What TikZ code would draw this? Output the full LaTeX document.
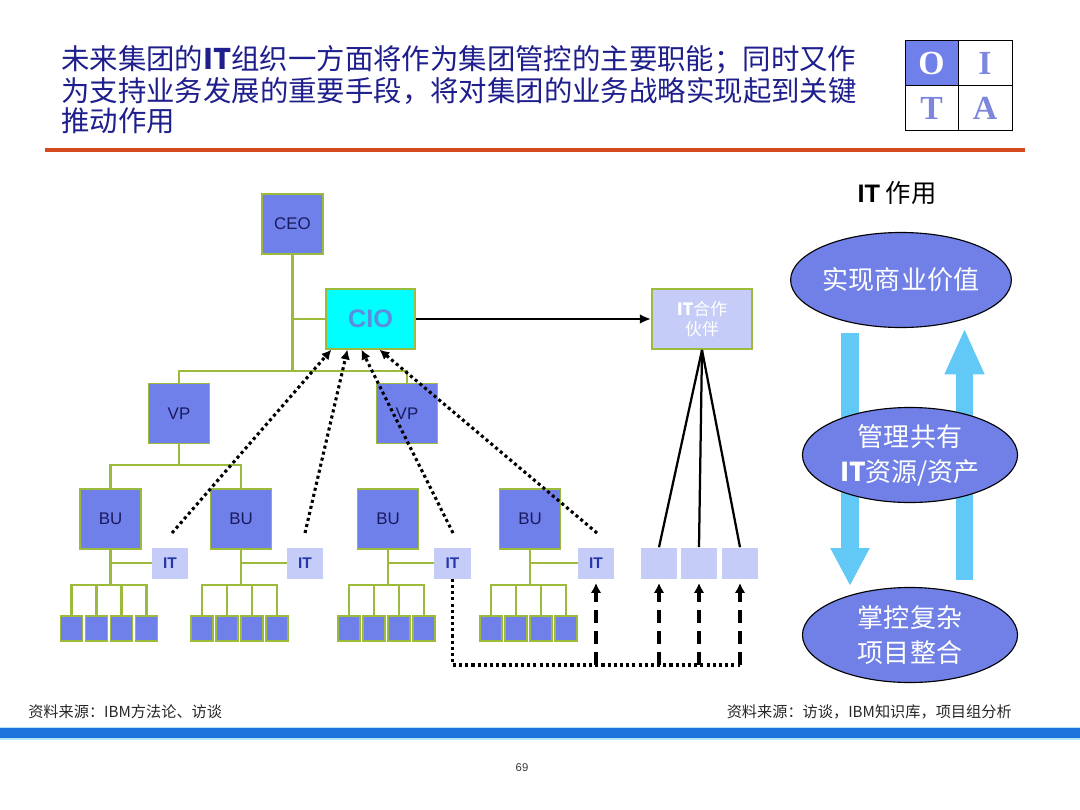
\documentclass[tikz,border=0pt]{standalone}
\usepackage{fontspec}
\setmainfont{Noto Sans CJK SC}
\newfontfamily\arialf{Liberation Sans}
\newfontfamily\timesf{Liberation Serif}
\usetikzlibrary{arrows.meta,calc,shapes.geometric}
\definecolor{boxblue}{HTML}{6F80EA}
\definecolor{tgreen}{HTML}{9CBB3C}
\definecolor{lightbox}{HTML}{C5CCF7}
\definecolor{titleblue}{HTML}{1E1E8C}
\definecolor{ellblue}{HTML}{7080E6}
\definecolor{arrblue}{HTML}{62C8F6}
\definecolor{navy}{HTML}{1A1A5E}
\definecolor{orangeline}{HTML}{D24A1E}
\definecolor{barblue}{HTML}{1A72DC}
\definecolor{itblue}{HTML}{2436A8}
\definecolor{ciotext}{HTML}{5A8FE0}
\definecolor{ciofill}{HTML}{00FFFF}
\definecolor{oitaletter}{HTML}{7B86DC}
\begin{document}
\begin{tikzpicture}[x=0.025cm,y=-0.025cm,
  orgbox/.style={draw=tgreen,line width=1.4pt,fill=boxblue,minimum width=1.525cm,minimum height=1.5cm,inner sep=0pt,font=\arialf\fontsize{12}{14}\selectfont,text=navy},
  ciobox/.style={draw=tgreen,line width=0.8pt,fill=ciofill,minimum width=2.225cm,minimum height=1.5cm,inner sep=0pt,font=\arialf\bfseries\fontsize{18}{20}\selectfont,text=ciotext},
  partnerbox/.style={draw=tgreen,line width=1.4pt,fill=lightbox,minimum width=2.5cm,minimum height=1.5cm,inner sep=0pt,align=center,font=\fontsize{12}{14.5}\selectfont,text=white},
  itbox/.style={fill=lightbox,minimum width=0.9cm,minimum height=0.775cm,inner sep=0pt,font=\arialf\bfseries\fontsize{11}{12}\selectfont,text=itblue},
  pbox/.style={fill=lightbox,minimum width=0.9cm,minimum height=0.775cm,inner sep=0pt},
  leaf/.style={draw=tgreen,line width=1.1pt,fill=boxblue,minimum width=0.55cm,minimum height=0.625cm,inner sep=0pt},
  gline/.style={draw=tgreen,line width=2pt},
  dotarr/.style={draw=black,line width=2.2pt,dash pattern=on 2.2pt off 2.2pt,-{Latex[length=7pt,width=7pt]}},
  dotline/.style={draw=black,line width=2.2pt,dash pattern=on 2.2pt off 2.2pt},
  dasharr/.style={draw=black,line width=2.6pt,dash pattern=on 9pt off 6pt,-{Latex[length=7pt,width=7.5pt]},shorten >=3pt},
  blackarr/.style={draw=black,line width=1.6pt,-{Latex[length=8pt,width=7pt]}},
  bline/.style={draw=black,line width=1.6pt},
  ell/.style={ellipse,draw=black,line width=0.8pt,fill=ellblue,minimum width=5.375cm,minimum height=2.375cm,inner sep=0pt,align=center,text=white,font=\fontsize{18.5}{25}\selectfont},
  blockarr/.style={draw=arrblue,line cap=butt},
  oita/.style={font=\timesf\bfseries\fontsize{24}{26}\selectfont},
  foot/.style={font=\fontsize{10.8}{12}\selectfont,text=black!85,inner sep=0pt}
]
\useasboundingbox (0,0) rectangle (1080,810);

% ---------- title ----------
\node[anchor=base west,text=titleblue,font=\fontsize{20.2}{24}\selectfont,inner sep=0pt] (t1) at (61,69) {未来集团的{\bfseries IT}组织一方面将作为集团管控的主要职能；同时又作};
\node[anchor=base west,text=titleblue,font=\fontsize{20.2}{24}\selectfont,inner sep=0pt] (t2) at (61,101) {为支持业务发展的重要手段，将对集团的业务战略实现起到关键};
\node[anchor=base west,text=titleblue,font=\fontsize{20.2}{24}\selectfont,inner sep=0pt] (t3) at (61,131) {推动作用};
\draw[orangeline,line width=2.2pt] (45,150) -- (1025,150);

% ---------- OITA ----------
\fill[boxblue] (905,40) rectangle (958,85);
\draw[black,line width=0.6pt] (905,40) rectangle (1012,130);
\draw[black,line width=0.6pt] (958,40) -- (958,130);
\draw[black,line width=0.6pt] (905,85) -- (1012,85);
\node[oita,text=white] (oo) at (931.5,63) {O};
\node[oita,text=oitaletter] (oi) at (985,63) {I};
\node[oita,text=oitaletter] (ot) at (931.5,108) {T};
\node[oita,text=oitaletter] (oa) at (985,108) {A};

% ---------- org chart ----------
\node[orgbox] (ceo) at (292.5,224) {CEO};
\node[ciobox] (cio) at (370.5,319) {CIO};
\node[orgbox] (vp1) at (179,413.5) {VP};
\node[orgbox] (vp2) at (407,413.5) {VP};
\node[orgbox] (bu1) at (110.5,519) {BU};
\node[orgbox] (bu2) at (241,519) {BU};
\node[orgbox] (bu3) at (388,519) {BU};
\node[orgbox] (bu4) at (530,519) {BU};
\node[itbox] (it1) at (170,563) {IT};
\node[itbox] (it2) at (305,563) {IT};
\node[itbox] (it3) at (452.5,563) {IT};
\node[itbox] (it4) at (596,563) {IT};
\node[partnerbox] (pt) at (702,319) {{\bfseries IT}合作\\伙伴};
\node[pbox] (p1) at (659,563) {};
\node[pbox] (p2) at (699,563) {};
\node[pbox] (p3) at (740,563) {};

\coordinate (bar) at (292.5,371);
\coordinate (h1) at (179,465);
\draw[gline] (ceo.south) -- (bar);
\draw[gline] (ceo.south |- cio.west) -- (cio.west);
\draw[gline] (vp1.north) |- (bar) -| (vp2.north);
\draw[gline] (vp1.south) -- (h1);
\draw[gline] (bu1.north) |- (h1) -| (bu2.north);

\foreach \n in {1,2,3,4}{
  \foreach \k/\dx in {1/-39,2/-14,3/11,4/36}{
    \node[leaf] (l\n-\k) at ($(bu\n.south)+(\dx,78.5)$) {};
  }
  \coordinate (lb\n) at ($(bu\n.south)+(0,35)$);
  \draw[gline] (bu\n.south) -- (lb\n);
  \draw[gline] (bu\n.south |- it\n.west) -- (it\n.west);
  \draw[gline] (l\n-1.north) |- (lb\n) -| (l\n-4.north);
  \draw[gline] (l\n-2.north) -- (l\n-2.north |- lb\n);
  \draw[gline] (l\n-3.north) -- (l\n-3.north |- lb\n);
}

% dotted arrows to CIO
\coordinate (s1) at (172,533);
\coordinate (s2) at (305,533);
\coordinate (s3) at (453,533);
\coordinate (s4) at (597,533);
\coordinate (e1) at ($(cio.south west)+(6,0)$);
\coordinate (e2) at ($(cio.south west)+(22,0)$);
\coordinate (e3) at ($(cio.south west)+(36,0)$);
\coordinate (e4) at ($(cio.south west)+(54,0)$);
\draw[dotarr] (s1) -- (e1);
\draw[dotarr] (s2) -- (e2);
\draw[dotarr] (s3) -- (e3);
\draw[dotarr] (s4) -- (e4);

% CIO -> partner
\draw[blackarr] (cio.east) -- (pt.west);
\draw[bline] (pt.south) -- (p1.north);
\draw[bline] (pt.south) -- (p2.north);
\draw[bline] (pt.south) -- (p3.north);

% bottom dotted + dashed arrows
\coordinate (bot) at (0,665);
\draw[dotline] (it3.south) |- (p3.south |- bot);
\draw[dasharr] (it4.south |- bot) -- (it4.south);
\draw[dasharr] (p1.south |- bot) -- (p1.south);
\draw[dasharr] (p2.south |- bot) -- (p2.south);
\draw[dasharr] (p3.south |- bot) -- (p3.south);

% ---------- right: IT roles ----------
\node[font=\fontsize{18}{20}\selectfont,text=black] (ittitle) at (897,193) {{\arialf\bfseries IT} 作用};
\coordinate (da1) at (850,333);
\coordinate (da2) at (850,586);
\coordinate (ua1) at (964.5,580);
\coordinate (ua2) at (964.5,328);
\draw[blockarr,line width=12.8pt,-{Triangle[width=26pt,length=27pt]}] (da1) -- (da2);
\draw[blockarr,line width=12.2pt,-{Triangle[width=26pt,length=33pt]}] (ua1) -- (ua2);
\node[ell] (el1) at (901,280) {实现商业价值};
\node[ell] (el2) at (910,455) {管理共有\\{\bfseries IT}资源/资产};
\node[ell] (el3) at (910,635) {掌控复杂\\项目整合};

% ---------- footer ----------
\node[foot,anchor=west] (f1) at (28,712) {资料来源：IBM方法论、访谈};
\node[foot,anchor=east] (f2) at (1012,712) {资料来源：访谈，IBM知识库，项目组分析};
\fill[cyan!30] (0,726.5) rectangle (1080,739.5);
\fill[barblue] (0,728) rectangle (1080,738);
\node[font=\arialf\fontsize{8}{9}\selectfont,text=black!80] (pg) at (522,768) {69};
\end{tikzpicture}
\end{document}
